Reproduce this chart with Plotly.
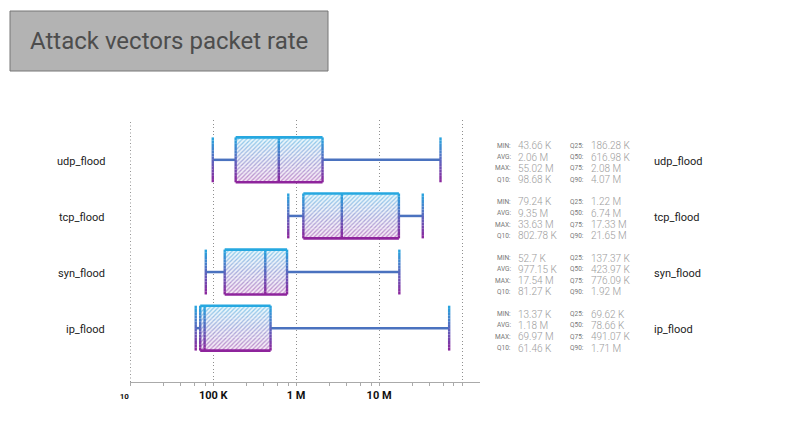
import plotly.graph_objects as go

# ---------------- data ----------------
categories = ["udp_flood", "tcp_flood", "syn_flood", "ip_flood"]
whisker_low = [98.68e3, 802.78e3, 81.27e3, 61.46e3]      # Q10
box_q25 = [186.28e3, 1.22e6, 137.37e3, 69.62e3]
box_median = [616.98e3, 3.55e6, 423.97e3, 78.66e3]       # as drawn
box_q75 = [2.08e6, 17.33e6, 776.09e3, 491.07e3]
whisker_high = [55.02e6, 33.63e6, 17.54e6, 69.97e6]      # MAX

stat_min = ["43.66 K", "79.24 K", "52.7 K", "13.37 K"]
stat_avg = ["2.06 M", "9.35 M", "977.15 K", "1.18 M"]
stat_max = ["55.02 M", "33.63 M", "17.54 M", "69.97 M"]
stat_q10 = ["98.68 K", "802.78 K", "81.27 K", "61.46 K"]
stat_q25 = ["186.28 K", "1.22 M", "137.37 K", "69.62 K"]
stat_q50 = ["616.98 K", "6.74 M", "423.97 K", "78.66 K"]
stat_q75 = ["2.08 M", "17.33 M", "776.09 K", "491.07 K"]
stat_q90 = ["4.07 M", "21.65 M", "1.92 M", "1.71 M"]

tick_vals = [1e4, 1e5, 1e6, 1e7, 1e8]
tick_text = ["<span style='font-size:8px'>10" + "&nbsp;" * 6 + "</span>",
             "100 K", "1 M", "10 M", ""]
minor_vals = [m * 10 ** e for e in range(4, 9) for m in (2.5, 4, 6, 8)]

title_text = "Attack vectors packet rate"

# ---------------- style ----------------
TOP = (38, 168, 224)
BOT = (142, 36, 156)
MID_WHISKER = "#4a72bf"
HALF = 0.40
NLEV = 14
FONT = "Roboto"
GRID_COLOR = "#8f8f8f"
GRID_DASH = "1px,2.5px"


def mix(t, a=TOP, b=BOT):
    return tuple(a[j] + (b[j] - a[j]) * t for j in range(3))


def lighten(c, f):
    return tuple(c[j] + (255 - c[j]) * f for j in range(3))


def rgb(c):
    return "rgb(%d,%d,%d)" % tuple(round(v) for v in c)


n = len(categories)
rows = [n - 1 - i for i in range(n)]

fig = go.Figure()

# hatched, gradient box fills (bands)
for k in range(NLEV):
    t = (k + 0.5) / NLEV
    xs, ys = [], []
    for i in range(n):
        yt = rows[i] + HALF - 2 * HALF * k / NLEV + 0.002
        yb = rows[i] + HALF - 2 * HALF * (k + 1) / NLEV - 0.002
        xs += [box_q25[i], box_q75[i], box_q75[i], box_q25[i], box_q25[i], None]
        ys += [yt, yt, yb, yb, yt, None]
    c = mix(t)
    fig.add_trace(go.Scatter(
        x=xs, y=ys, mode="lines", line=dict(width=0), fill="toself",
        fillcolor=rgb(lighten(c, 0.9)),
        fillpattern=dict(shape="/", size=3, solidity=0.4,
                         fgcolor=rgb(lighten(c, 0.45)),
                         bgcolor=rgb(lighten(c, 0.9)), fillmode="replace"),
        hoverinfo="skip", showlegend=False))

# whisker horizontal lines
wx, wy = [], []
for i in range(n):
    wx += [whisker_low[i], box_q25[i], None, box_q75[i], whisker_high[i], None]
    wy += [rows[i], rows[i], None, rows[i], rows[i], None]
fig.add_trace(go.Scatter(x=wx, y=wy, mode="lines",
                         line=dict(color=MID_WHISKER, width=2.5),
                         hoverinfo="skip", showlegend=False))

# gradient vertical strokes (box sides, median, caps)
for k in range(NLEV):
    t = (k + 0.5) / NLEV
    xs, ys = [], []
    for i in range(n):
        yt = rows[i] + HALF - 2 * HALF * k / NLEV
        yb = rows[i] + HALF - 2 * HALF * (k + 1) / NLEV
        for xv in (whisker_low[i], box_q25[i], box_median[i], box_q75[i], whisker_high[i]):
            xs += [xv, xv, None]
            ys += [yt, yb, None]
    fig.add_trace(go.Scatter(x=xs, y=ys, mode="lines",
                             line=dict(color=rgb(mix(t)), width=2.4),
                             hoverinfo="skip", showlegend=False))

# top / bottom edges
for sign, col in ((1, TOP), (-1, BOT)):
    xs, ys = [], []
    for i in range(n):
        yv = rows[i] + sign * HALF
        xs += [box_q25[i], box_q75[i], None]
        ys += [yv, yv, None]
    fig.add_trace(go.Scatter(x=xs, y=ys, mode="lines",
                             line=dict(color=rgb(col), width=2.6),
                             hoverinfo="skip", showlegend=False))

# ---------------- layout ----------------
L, R_PX, T, B_PX = 130, 480, 120, 382
W, H = 798, 421
pw = R_PX - L
ph = B_PX - T


def px_x(p):
    return (p - L) / pw


def px_y(p):
    return (B_PX - p) / ph


annotations = []
for i in range(n):
    annotations.append(dict(x=px_x(107), y=rows[i] - 1.5 / 56, xref="paper", yref="y",
                            text=categories[i], showarrow=False, xanchor="right",
                            font=dict(family=FONT, size=11, color="#222")))
    annotations.append(dict(x=px_x(652), y=rows[i] - 1.5 / 56, xref="paper", yref="y",
                            text=categories[i], showarrow=False, xanchor="left",
                            font=dict(family=FONT, size=11, color="#222")))
    offs = [-14, -2.7, 8.6, 19.9]
    col1 = [("MIN:", stat_min[i]), ("AVG:", stat_avg[i]), ("MAX:", stat_max[i]), ("Q10:", stat_q10[i])]
    col2 = [("Q25:", stat_q25[i]), ("Q50:", stat_q50[i]), ("Q75:", stat_q75[i]), ("Q90:", stat_q90[i])]
    for j in range(4):
        yy = rows[i] - offs[j] / 56
        for (lab, val), lx in ((col1[j], 513), (col2[j], 586)):
            annotations.append(dict(x=px_x(lx), y=yy, xref="paper", yref="y", text=lab,
                                    showarrow=False, xanchor="right",
                                    font=dict(family=FONT, size=6.5, color="#777")))
            annotations.append(dict(x=px_x(lx + 3), y=yy, xref="paper", yref="y", text=val,
                                    showarrow=False, xanchor="left",
                                    font=dict(family=FONT, size=10, color="#9c9c9c", weight=300)))

annotations.append(dict(x=px_x(169), y=px_y(41), xref="paper", yref="paper",
                        text=title_text, showarrow=False, xanchor="center", yanchor="middle",
                        font=dict(family=FONT, size=24, color="#4d4d4d")))

shapes = [dict(type="rect", xref="paper", yref="paper",
               x0=px_x(10), x1=px_x(328), y0=px_y(71), y1=px_y(11),
               fillcolor="#b3b3b3", line=dict(color="#777", width=1), layer="below"),
          # gridline at the first tick (plotly hides grid at the range edge)
          dict(type="line", xref="x", yref="paper", x0=tick_vals[0], x1=tick_vals[0],
               y0=0, y1=1, line=dict(color=GRID_COLOR, width=1.2, dash=GRID_DASH),
               layer="below")]

fig.update_layout(
    width=W, height=H,
    margin=dict(l=L, r=W - R_PX, t=T, b=H - B_PX, pad=0),
    paper_bgcolor="white", plot_bgcolor="white",
    showlegend=False,
    xaxis=dict(type="log", range=[3.996, 4 + pw / 83.0],
               tickvals=tick_vals, ticktext=tick_text,
               showgrid=True, gridcolor=GRID_COLOR, griddash=GRID_DASH, gridwidth=1.2,
               showline=True, linecolor="#aaa", linewidth=1,
               ticks="outside", ticklen=3, tickcolor="#aaa",
               minor=dict(tickvals=minor_vals, ticks="outside", ticklen=3,
                          tickcolor="#aaa", showgrid=False),
               tickfont=dict(family=FONT, size=11, color="#111", weight="bold"),
               zeroline=False, fixedrange=True),
    yaxis=dict(range=[-0.96, 3.71], showgrid=False, showticklabels=False,
               zeroline=False, showline=False, ticks="", fixedrange=True),
    shapes=shapes,
    annotations=annotations,
)

fig.write_html("out.html", config={"displayModeBar": False},
               post_script="document.body.style.margin='0';document.body.style.padding='0';")
